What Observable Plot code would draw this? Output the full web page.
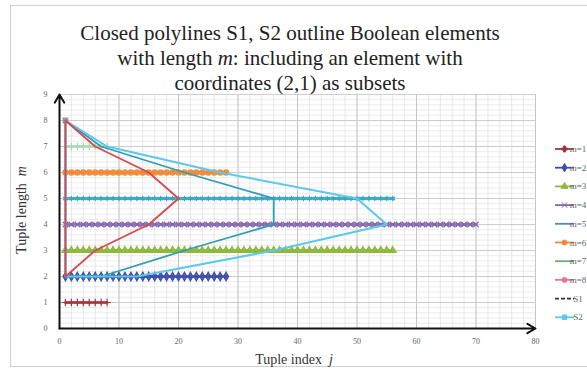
<!DOCTYPE html>
<html><head><meta charset="utf-8">
<script src="https://cdn.jsdelivr.net/npm/d3@7"></script>
<script src="https://cdn.jsdelivr.net/npm/@observablehq/plot@0.6"></script>
<style>
body{margin:0;background:#fff;}
#wrap{position:relative;width:587px;height:377px;overflow:hidden;background:#fff;}
#frame{position:absolute;left:10px;top:5px;width:640px;height:362px;border:1px solid #d2d2d2;box-sizing:border-box;pointer-events:none;}
#wrap svg{position:absolute;left:0;top:0;overflow:visible;}
</style></head><body><div id="wrap"><div id="frame"></div></div>
<script>
// Tuple lengths m and number of tuples (Boolean elements) of each length
const lengths = [1, 2, 3, 4, 5, 6, 7, 8];
const counts = [8, 28, 56, 70, 56, 28, 8, 1];
const rowNames = ["m=1", "m=2", "m=3", "m=4", "m=5", "m=6", "m=7", "m=8"];
const rowColors = ["#a3343f", "#3c4ea6", "#8db83c", "#8466ad", "#3aa6bf", "#f08a3a", "#a8d8b0", "#9a8a8e"];
const rowSymbols = ["plus", "diamond", "triangle", "times", "asterisk", "circle", "plus", "square"];

// Closed polyline S1 (red)
const s1M = [2, 3, 4, 5, 6, 7, 8, 2];
const s1X = [1, 6, 15, 20, 15, 6, 1, 1];
// Closed polyline S2 outer (light cyan)
const s2M = [2, 2, 3, 4, 5, 6, 7, 8, 2];
const s2X = [1, 13, 36, 55, 50, 27, 8, 1, 1];
// Inner outline (teal)
const s3M = [2, 2, 3, 4, 5, 6, 7, 8, 2];
const s3X = [1, 7, 21, 36, 36, 21, 7, 1, 1];

const xTicks = [0, 10, 20, 30, 40, 50, 60, 70, 80];
const yTicks = [0, 1, 2, 3, 4, 5, 6, 7, 8, 9];
const titleLines = ["Closed polylines S1, S2 outline Boolean elements", "with length |m|: including an element with", "coordinates (2,1) as subsets"];
const legendNames = ["m=1", "m=2", "m=3", "m=4", "m=5", "m=6", "m=7", "m=8", "S1", "S2"];
const legendColors = ["#a3343f", "#3c4ea6", "#8db83c", "#8466ad", "#5a86b8", "#f08a3a", "#6cae7c", "#e27a8e", "#333333", "#5cc8ea"];
const legendSymbols = ["plus", "diamond", "triangle", "times", null, "circle", null, "circle", null, "square"];
const legendDash = [null, null, null, null, null, null, null, null, "4,2", null];

const rows = lengths.flatMap((m, i) => d3.range(1, counts[i] + 1).map(j => ({j, m, name: rowNames[i]})));
const s1 = s1M.map((m, i) => ({m, j: s1X[i]}));
const s2 = s2M.map((m, i) => ({m, j: s2X[i]}));
const s3 = s3M.map((m, i) => ({m, j: s3X[i]}));

const marks = [
  Plot.ruleX(d3.range(0, 81, 2), {stroke: "#d6d6d6", strokeWidth: 0.6}),
  Plot.ruleY(d3.range(0, 45).map(k => k * 0.2), {stroke: "#dedede", strokeWidth: 0.6}),
  Plot.ruleX(xTicks, {stroke: "#bdbdbd", strokeWidth: 0.8}),
  Plot.ruleY(yTicks, {stroke: "#c4c4c4", strokeWidth: 0.8}),
];
lengths.forEach((m, i) => {
  const d = rows.filter(r => r.m === m);
  marks.push(Plot.line(d, {x: "j", y: "m", stroke: rowColors[i], strokeWidth: 3, strokeOpacity: 0.85}));
  marks.push(Plot.dot(d, {x: "j", y: "m", stroke: rowColors[i], fill: rowColors[i], fillOpacity: 0.8, symbol: rowSymbols[i], r: 2.6, strokeWidth: 1.2}));
});
marks.push(
  Plot.line(s3, {x: "j", y: "m", stroke: "#2f9db6", strokeWidth: 1.8}),
  Plot.line(s2, {x: "j", y: "m", stroke: "#5cc8ea", strokeWidth: 2}),
  Plot.line(s1, {x: "j", y: "m", stroke: "#d9474f", strokeWidth: 1.8}),
  Plot.arrow([0], {x1: d => d, y1: yTicks[0], x2: d => d, y2: yTicks[yTicks.length - 1], stroke: "#111", strokeWidth: 2, headLength: 7, bend: 0}),
  Plot.arrow([0], {x1: xTicks[0], y1: d => d, x2: xTicks[xTicks.length - 1], y2: d => d, stroke: "#111", strokeWidth: 2, headLength: 7, bend: 0})
);

const plot = Plot.plot({
  width: 587, height: 377,
  marginLeft: 59, marginRight: 52, marginTop: 94, marginBottom: 49,
  x: {domain: [0, 80], ticks: xTicks, tickSize: 0, tickPadding: 10, label: null},
  y: {domain: [0, 9], ticks: yTicks, tickSize: 0, tickPadding: 12, label: null},
  style: {fontFamily: "Liberation Serif", fontSize: "8px", color: "#666", background: "transparent"},
  marks
});
document.getElementById("wrap").appendChild(plot);

const svg = d3.select(plot);
// Title
const t = svg.append("text").attr("text-anchor", "middle").attr("font-family", "Liberation Serif").attr("font-size", 21).attr("fill", "#222");
titleLines.forEach((line, i) => {
  const tl = t.append("tspan").attr("x", 290).attr("y", 40 + i * 25);
  line.split("|").forEach((part, k) => {
    tl.append("tspan").attr("font-style", k % 2 ? "italic" : "normal").text(part);
  });
});
// Axis labels
const yl = svg.append("text").attr("transform", "translate(26,210) rotate(-90)").attr("text-anchor", "middle")
  .attr("font-family", "Liberation Serif").attr("font-size", 14).attr("fill", "#333");
yl.append("tspan").text("Tuple length  ");
yl.append("tspan").attr("font-style", "italic").text("m");
const xl = svg.append("text").attr("x", 294).attr("y", 364).attr("text-anchor", "middle")
  .attr("font-family", "Liberation Serif").attr("font-size", 14).attr("fill", "#333");
xl.append("tspan").text("Tuple index  ");
xl.append("tspan").attr("font-style", "italic").text("j");

// Legend
const lg = svg.append("g").attr("font-family", "Liberation Serif").attr("font-size", 9).attr("fill", "#666");
legendNames.forEach((name, i) => {
  const y = 149 + i * 18.7;
  lg.append("line").attr("x1", 555).attr("x2", 574).attr("y1", y).attr("y2", y)
    .attr("stroke", legendColors[i]).attr("stroke-width", 1.8).attr("stroke-dasharray", legendDash[i]);
  if (legendSymbols[i]) {
    const sym = {plus: d3.symbolCross, diamond: d3.symbolDiamond, triangle: d3.symbolTriangle, times: d3.symbolX, circle: d3.symbolCircle, square: d3.symbolSquare}[legendSymbols[i]];
    lg.append("path").attr("d", d3.symbol(sym, 20)()).attr("transform", `translate(564.5,${y})`)
      .attr("fill", legendColors[i]).attr("stroke", legendColors[i]);
  }
  lg.append("text").attr("x", 578).attr("y", y + 3).text(name);
});
</script></body></html>
